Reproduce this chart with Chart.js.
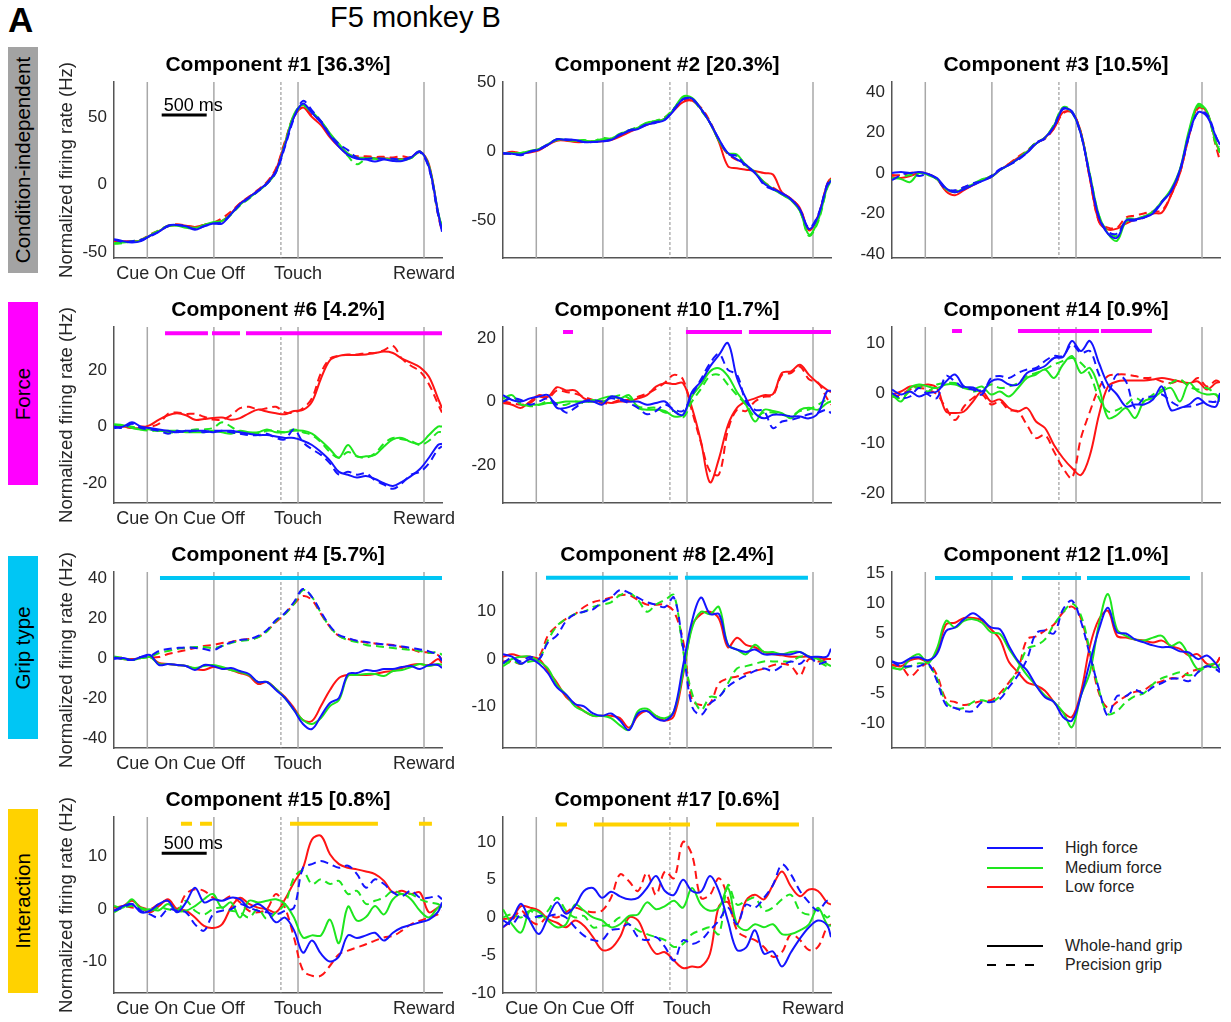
<!DOCTYPE html>
<html>
<head>
<meta charset="utf-8">
<title>F5 monkey B – demixed components</title>
<script src="https://cdn.jsdelivr.net/npm/chart.js@4.4.1/dist/chart.umd.min.js"></script>
<style>
  html, body { margin: 0; padding: 0; background: #fff; }
  #page { position: relative; width: 1231px; height: 1022px; overflow: hidden;
          font-family: 'Liberation Sans', Arial, Helvetica, sans-serif; color: #000; }
  #page canvas { position: absolute; }
  .ptitle { position: absolute; width: 328px; text-align: center; font-weight: bold;
            font-size: 21px; line-height: 24px; white-space: nowrap; }
  .ylab { position: absolute; width: 260px; height: 22px; line-height: 22px; text-align: center;
          font-size: 18.5px; color: #262626; white-space: nowrap; transform: rotate(-90deg); }
  .side { position: absolute; left: 8px; width: 30px; }
  .side span { position: absolute; left: 50%; top: 50%; white-space: nowrap; font-size: 20.5px;
               transform: translate(-50%, -50%) rotate(-90deg); }
  .leg-line { position: absolute; left: 987px; width: 56px; height: 2px; }
  .leg-text { position: absolute; left: 1065px; font-size: 16px; line-height: 20px; color: #222; white-space: nowrap; }
</style>
</head>
<body>
<div id="page">
  <div style="position:absolute;left:8px;top:2px;font-size:35px;line-height:35px;font-weight:bold;">A</div>
  <div style="position:absolute;left:330px;top:3px;font-size:29px;line-height:29px;">F5 monkey B</div>

  <div class="side" style="top:47px;height:226px;background:#a3a3a3;"><span>Condition-independent</span></div>
  <div class="side" style="top:302px;height:183px;background:#ff00ff;"><span>Force</span></div>
  <div class="side" style="top:556px;height:183px;background:#00c6f4;"><span>Grip type</span></div>
  <div class="side" style="top:809px;height:184px;background:#ffd200;"><span>Interaction</span></div>

  <div class="leg-line" style="top:847px;background:#1414ff;"></div>
  <div class="leg-text" style="top:838px;">High force</div>
  <div class="leg-line" style="top:867px;background:#1ee61e;"></div>
  <div class="leg-text" style="top:858px;">Medium force</div>
  <div class="leg-line" style="top:886px;background:#ff1414;"></div>
  <div class="leg-text" style="top:877px;">Low force</div>
  <div class="leg-line" style="top:945px;background:#000;"></div>
  <div class="leg-text" style="top:936px;">Whole-hand grip</div>
  <div class="leg-line" style="top:964px;width:48px;background:repeating-linear-gradient(to right,#000 0 9px,transparent 9px 19px);"></div>
  <div class="leg-text" style="top:955px;">Precision grip</div>
</div>

<script>
// ---- time base (ms) and trial events ----
const T = [0,100,200,300,400,500,600,700,800,900,1000,1100,1200,1300,1400,1500,1600,1700,1800,1900,
           2000,2100,2200,2300,2400,2500,2600,2700,2800,2900,3000,3100,3200,3300,3400,3500,3600,3645];
const T_END = 3645;
const eventTimes = [370, 1110, 2045, 3445];
const eventNames = ['Cue On', 'Cue Off', 'Touch', 'Reward'];
const goTime = 1855;

// ---- Component #1 [36.3%] ----
const c1HighWhole = [-40.5,-42,-43,-42,-38,-35,-30.5,-30,-31,-33.5,-31,-29,-29,-22,-14.5,-9.5,-4.5,1,10,29,50,60,53,46,36,28,22,19,18.5,17,18.5,17.5,17.5,20,24.5,13,-20,-35];
const c1HighPrec  = [-41,-42.5,-42,-41,-38.5,-35,-31,-30,-31,-33,-31,-29,-28,-22,-15,-10,-5,0.5,9,28,49,62,55,47,37,30,25.5,20,19,19.5,19,19,18.5,20.5,24,12,-22,-34];
const c1MedWhole  = [-43.5,-43,-42.5,-41.5,-38,-34.5,-31,-30.5,-32,-32.5,-30,-28,-27,-22,-15,-10,-5,0.5,9,30,52,59,54,47,38,30,23,20,19.5,19,19,18.5,18.5,19.5,24,14,-20,-32];
const c1MedPrec   = [-44,-43.5,-42,-41,-37.5,-34,-30.5,-30,-31.5,-32,-30.5,-28.5,-27.5,-22.5,-15.5,-10.5,-5,1,9.5,30,51,58,53,47,37,29,21,15,19,19.5,19,19,18,19.5,24.5,13,-21,-31];
const c1LowWhole  = [-41.5,-42,-42,-41.5,-38,-34.5,-31,-30,-30.5,-31.5,-30,-28.5,-27,-21.5,-14,-9.5,-4.5,1,11,31,50,57,50,44,35,28,22.5,20,20,19.5,19.5,19,19,20,24.5,15,-21,-33];
const c1LowPrec   = [-42,-42.5,-42,-41,-37,-34,-30.5,-29.5,-30.5,-31.5,-30,-28.5,-25,-20,-14,-9,-4,2,12,32,51,57,51,47,37,29,22,21,21,20.5,20.5,20,21,20,24,13,-22,-35];

// ---- Component #2 [20.3%] ----
const c2HighWhole = [-1.5,-1.5,-2,0,1.5,5,9,8.5,8.5,7,7,7.5,8.5,12,15,16.5,19.5,21,23,30,38,38.5,31,21,9,-1,-5.5,-9.5,-15.5,-23,-27,-30,-34.5,-42,-56,-47,-25,-21];
const c2HighPrec  = [-1,-1.5,-2.5,0,2,5.5,9,9,8.5,7,7,7.5,9,12.5,15.5,17,20,21.5,23.5,31,38,38,31,21,9,-1.5,-3,-11,-15,-24,-27.5,-30.5,-34.5,-42,-55,-46,-24,-19];
const c2MedWhole  = [-1,-1,-1,0.5,2,5.5,9,8.5,8,8,7.5,9,9.5,12.5,15.5,17.5,21,22,24,31,40,39,31,21,8,-1,-2,-10,-15,-22,-27,-31,-35,-43,-60,-50,-26,-20];
const c2MedPrec   = [-1,-1.5,-1,0.5,2,5,8.5,8.5,8,8.5,7.5,10,9.5,13,15.5,18,21,22.5,25,31.5,39,38,30,21,8,-1,-3,-9.5,-15,-22.5,-27,-31,-35,-43,-61,-51,-27,-21];
const c2LowWhole  = [-1.5,0,-1,-0.5,1,5,8,8,7,7,7.5,7.5,8.5,11,14,17,19.5,21.5,24,30,36,37,31,21,7,-10.5,-12,-13,-14,-15.5,-16.5,-29.5,-34,-41,-57,-47,-24,-19];
const c2LowPrec   = [-1.5,-0.5,-1,0,1.5,5,8.5,8.5,7.5,7.5,7.5,8,9,12,15,17.5,20,22,25,31,37,37,32,22,8,-2,-6,-10,-15.5,-22,-26,-30,-34,-41,-56,-47,-24,-18];

// ---- Component #3 [10.5%] ----
const c3HighWhole = [0,0.5,0,0.5,-0.5,-2.5,-7.5,-9.5,-8,-6,-4,-2,1.5,4,7,10,14.5,17.5,23,31.5,30.5,19,-2,-22,-30,-32,-23.5,-23,-22,-20,-14.5,-9,1.5,19,30,28,18,14];
const c3HighPrec  = [-3.5,-1,0,-1.5,-0.5,-3,-8,-8.5,-7,-5,-4,-1.5,2,4,6.5,10,15,17,23,32,30,19,-2,-22,-29,-30,-24,-23.5,-22,-19.5,-14,-9,1,18,30,29,18,13];
const c3MedWhole  = [-2.5,-3,-4.5,0,-1,-3,-8,-9.5,-7.5,-5.5,-3,-2,1.5,4,7,10.5,14.5,17.5,23.5,32,30,19.5,-1,-21,-30,-33.5,-24,-23,-21.5,-19,-14,-8,2,21,34,30.5,15,11];
const c3MedPrec   = [-3,-2,-1,0,-0.5,-3,-7.5,-9,-7.5,-5.5,-3.5,-1.5,1.5,4,7,11,15,17.5,24,32.5,30.5,19,-1,-21,-29,-31,-23,-22.5,-21.5,-19.5,-14,-8.5,1.5,20,33,29.5,14,10];
const c3LowWhole  = [-2,-2.5,-1.5,0,-0.5,-3,-9,-11,-8.5,-6,-3.5,-2,1.5,4.5,7.5,10.5,14.5,17.5,22,30,30,20,-3,-24,-28,-27.5,-25,-23,-22,-20,-19.5,-11,0,19,33,30,15,10];
const c3LowPrec   = [-1,-1,0,0.5,-0.5,-3,-8.5,-9,-7,-6,-3.5,-1.5,1.5,4.5,8,11,15,17,22,29.5,30,20,-3,-24,-27,-27,-22,-21,-20,-19,-18.5,-11,0,18,32,30,13,6];

// ---- Component #6 [4.2%] ----
const c6HighWhole = [-0.5,0,1.5,0,-0.5,-1,-1.5,-2,-1.5,-1.5,-1.5,-2,-1.5,-1.5,-2,-2.5,-3,-3,-3.5,-4,-4,-5,-6.5,-9,-12,-16,-17,-18,-17.5,-18.5,-20,-21,-19.5,-17.5,-15,-11,-6.5,-6];
const c6HighPrec  = [0,-0.5,1,-0.5,-1,-1.5,-2.5,-1.5,-2,-1.5,-2,-1.5,-1.5,-2,-2.5,-3,-3,-2.5,-4,-4.5,-1,-5.5,-8,-10,-13,-17,-16,-17,-16.5,-19,-20.5,-22,-20,-17,-16,-13,-8,-7];
const c6MedWhole  = [0.8,0.5,-0.5,-1,-1,-1.5,-1.5,-1.5,-2,-2,-2,-1.5,-2,-2.5,-1.5,-2,-2,-1,-2,-2,-1.5,-1.5,-2.5,-5,-8,-11,-6.5,-10.5,-10.5,-10,-7,-4.5,-4,-5.5,-6,-3,0,0];
const c6MedPrec   = [0.5,0.5,0,-1,-1.5,-1.5,-2,-2,-1.5,-1,-1,-0.5,1.5,0,-2,-2,-2.5,-1.5,-1.5,-2,-1,-2,-3,-5.5,-9,-11,-9,-10.5,-11,-9.5,-6,-4,-4.5,-5,-6.5,-5,-2,-2];
const c6LowWhole  = [0,0,-0.5,-0.5,0.5,2.5,4,4.7,4,2.4,2.7,3,3.2,2.4,3,4.7,6,5.3,4.7,4.4,5.5,5.9,8.8,17,23.5,25,25.3,25.3,25.5,26,26.5,26,24,22.6,21,17.6,10,6.5];
const c6LowPrec   = [0.5,0,-0.5,0,0,1,4.5,5,4.5,4.5,3.5,2.5,2.5,4,6.5,7,6,6.5,7,5,5,6.5,10,19,24,25,25.5,25.5,26,26,27,28.5,24,21.5,19.5,15,8,5];
const c6Sig = [[567,1044],[1089,1400],[1467,3645]];
const c6SigLevel = 33;

// ---- Component #10 [1.7%] ----
const c10HighWhole = [2,0.5,0,1,1.6,2,-2,-2,-1,0,0,-1,1.6,1,0,0,-1,-0.5,0,-3,-4.2,3,6.3,11,14.7,18.4,7.4,1,-3.7,-5.3,-4.2,-4.2,-4.7,-4.7,-5.3,-3.7,3.2,3.4];
const c10HighPrec  = [0,1,0.5,-1,0,1,-1,-3.5,-2,0,0.5,0,1,0.5,-0.5,-2,-4,-3,-1,-2.5,-3,2,7,12,15,10,8.5,0,-2.6,-3,-8.4,-6.3,-5.8,-5,-4,-3.5,-2.6,-3.7];
const c10MedWhole  = [1,2,-1,-1,-1,-0.5,-0.5,0,0,0,0,1,1.6,1,2,-2,-2.6,-2.6,-3,-4.7,-4.2,1.6,5.3,9.5,10.5,8,3,-1,-6.3,-2.6,-3,-3.7,-5.3,-2.6,-2,-2.6,-0.5,0];
const c10MedPrec   = [0,1.5,-0.5,-1.5,-1,0,-1,-1,0,-0.5,0.5,0,1,2,1,-1.5,-2,-2,-3.5,-3,-5,0,4,8,8.4,5.3,2,-1,-4.7,-3.5,-3.5,-4.2,-4.5,-3,-2.5,-1,0.5,0];
const c10LowWhole  = [-0.5,-1,-2,0,2,1.5,4.5,3.5,3.5,1,0,0,-0.5,0,0,1,2,4.7,5.8,5.5,5.8,-2,-12.6,-25.5,-18,-7.4,-2,0,1,2,2.3,9,9.5,11.6,8.4,5.8,3.7,3];
const c10LowPrec   = [0,-0.5,-1,-0.5,1.5,1,3.5,3,2.5,1.5,0.5,-0.5,-0.5,0.5,0.5,1.5,2.5,4,6,8.4,7,-3,-13,-22,-23,-9,-2.6,-3,0,1.5,2,8.4,9,11,7,6,1,-1];
const c10Sig = [[667,778],[2033,2656],[2733,3645]];
const c10SigLevel = 21.9;

// ---- Component #14 [0.9%] ----
const c14HighWhole = [0.7,-0.3,0.3,-0.7,0,0.3,2.3,3.7,1.3,1.1,0.3,2.3,2.7,1.7,1.7,4,4.7,5.4,7,7.2,10.4,8.4,10.4,6,1.7,-0.3,-2.7,-2.3,-2.3,-1.3,1.3,-3.4,-3,-2.3,-1,-2.3,-2.7,0];
const c14HighPrec  = [0,-1,-0.7,1,-0.3,-1,3.4,2.3,1,0.7,-0.3,3,3.4,3,4,4.7,5,6.4,7.4,7.4,9.7,8,8.4,3.7,0.3,3.7,2.3,-3,-1,-0.7,-0.3,-1.7,-2.7,-2.7,-2.3,-1.7,-1.7,-0.3];
const c14MedWhole  = [-0.3,-1.7,1,1.7,1.3,1,1.7,1.7,1,0.7,1.3,-0.3,0.3,-0.7,1,3,3.7,4.7,3,5.7,7.4,4,5,1,-5,-4.4,-3,-5,-1.7,-1,0.3,1,-1.7,2,0.3,-0.3,-0.3,-1.7];
const c14MedPrec   = [-0.7,-1,0.3,1.3,0.3,1.7,2,2,1.3,0.3,0.7,1.7,1,1.3,2,3.4,4,4.7,5.7,6.4,7,6,3.7,-1,-3.7,-3.4,-2.3,-1,-1.7,-0.3,0.7,2,2.7,1.3,0.7,1,-0.3,-1];
const c14LowWhole  = [-0.3,0.3,1.3,1.3,1.7,1,-3.7,-4,-3.7,-1.7,0.3,-1.7,-1.3,-3,-3.7,-3,-5.7,-7,-10.4,-13,-15,-16.4,-12.4,-4.4,1.3,2.3,2.5,2.5,2.5,2.7,3,2.7,2.3,2,2.3,0.7,2,2.2];
const c14LowPrec   = [-0.7,-0.3,0.7,1,0.7,-0.3,-3,-5.4,-2.7,-1,-0.3,-2.3,-1.7,-3.4,-3.7,-6.4,-9,-8.4,-11.7,-15,-17,-9,-3.7,1,3.4,3.7,3.7,3.4,3,3,2.3,2,2.5,1.7,3,1.3,2.5,2.2];
const c14Sig = [[667,778],[1400,2300],[2322,2889]];
const c14SigLevel = 12.4;

// ---- Component #4 [5.7%] ----
const c4HighWhole = [-0.5,0,-1,0.5,1.5,-3.5,-3,-3.5,-4,-6,-3.5,-4,-5.5,-5,-6.5,-8,-12,-12,-16,-20,-26,-33,-35.5,-29,-22.5,-20,-8,-7.5,-6,-6.5,-5.5,-5.5,-4.5,-4,-5.5,-3.5,-3.5,-5];
const c4HighPrec  = [0.3,-0.5,-1,0.5,1,3.5,4.5,5,5.3,5,4.5,3.8,6,7.8,9,9.5,11,14,19,22.5,28,34.5,30.5,23,16,11.5,10,8.6,8,7.3,6.8,6.3,5.8,5,4.3,3.3,1.5,-1.5];
const c4MedWhole  = [0.5,-0.5,-1,0,0.5,-3,-3,-3.5,-4,-5,-4,-3.5,-4.5,-6,-7,-8.5,-12,-12,-15.5,-20,-26,-31,-33,-30,-24,-21,-9,-8.5,-8,-8,-9,-6.5,-6,-4.5,-3,-4,-3,-3.5];
const c4MedPrec   = [0.8,0,-1,0,0.5,2.5,3.5,4.5,5,5.5,5.5,5,6,7.5,8.5,9,10.3,13.3,18.5,22,27,34,30.5,22.5,15.5,11,9,8,6.5,6,5.5,5,4.5,4,3.5,2.5,3,1.5];
const c4LowWhole  = [0.5,-0.5,-0.5,0,0.5,-2.5,-3,-3.5,-4,-5.5,-6,-4.5,-5,-6,-7.5,-9,-13,-12,-15.5,-19.5,-25,-31,-31.5,-24,-16,-10,-8.5,-8.5,-8.5,-8,-7,-6.5,-5,-3.5,-3,-3.5,-0.5,-2.5];
const c4LowPrec   = [0.3,0,-1,0.5,0.3,0.5,2,3,4,5,6,6.5,7.5,8,9,9.5,10.5,13.5,18,22,27,31,29,22,15.5,11,9.5,8.6,7.8,7.3,6.8,6.5,5.5,4.5,3,2.8,1.5,-1];
const c4Sig = [[511,3645]];
const c4SigLevel = 40;

// ---- Component #8 [2.4%] ----
const c8HighWhole = [1,0.5,-1,0,-1,-3,-6,-7.5,-9.5,-10,-11.5,-12,-11.5,-13,-15,-11.5,-11,-12.5,-13,-11,-1.5,8,13,9.5,9.5,3,2,1.5,2,1,1,1,1,1.5,0.5,0.5,0.5,2.2];
const c8HighPrec  = [-0.9,0.3,-0.5,0.5,0,3.5,5,8,9.5,10,10.5,12,13,14.6,14,13,12,11.5,11,13,2.6,-10,-11.8,-9.4,-8,-5.8,-4.5,-3.5,-2.5,-2,-2.5,-1.5,-0.5,-1,0.5,-1,-0.5,-0.5];
const c8MedWhole  = [-1,0,0.5,0.5,-0.5,-2,-5.5,-7.5,-10,-11,-12,-12,-12.5,-14,-15,-11,-10.5,-12,-12.5,-11,-3,6.5,10,9.5,11,3,2,1,3,1.5,1.5,1,1.5,1.5,0.5,0,-1,-1.5];
const c8MedPrec   = [-1.5,-0.5,-1,-0.5,0,4,7,8.5,9.5,10,11,11.5,12,13.5,14,12.5,10,11.5,12.5,13.5,1.9,-7.2,-10.8,-8,-8,-5.1,-2,-1.5,-1,-0.5,-0.5,-0.5,-0.5,0.5,0.5,-0.5,-1.5,-1.5];
const c8LowWhole  = [0.5,1,0.5,0.5,0,-2.5,-5,-8,-9.5,-11,-12,-12,-12,-12.5,-14.5,-12,-11,-12,-13,-12,-3.5,7,9.5,10,8.5,2.5,4.5,3,2.5,1.5,1,0.8,0.5,0.5,0.5,0.3,0,0];
const c8LowPrec   = [-0.5,-0.5,-1,0,0.5,5,7,8.5,9.5,11,12,12.5,13,13.5,13.5,12.5,11.5,11.5,11.5,10,4,-8.7,-9.7,-9.4,-5.1,-4.1,-3.7,-3,-2.5,-2,-1.3,-1,-1.5,-3.5,0,-0.5,0,0];
const c8Sig = [[478,1944],[2022,3389]];
const c8SigLevel = 17.2;

// ---- Component #12 [1.0%] ----
const c12HighWhole = [0.3,0,0.8,1,0.5,1.6,5.4,6,7.4,8.4,7.4,6,5.7,2.9,0.4,-1.2,-3.7,-5.7,-6.5,-9,-9.6,-5.4,0.2,5.7,9.3,5.2,5,4,3.5,3,2.7,2.7,2,1.8,0.7,1.3,-0.1,-1.2];
const c12HighPrec  = [0.3,-0.5,-0.5,-0.5,0,-3,-7,-7.5,-8,-8,-6.5,-6.5,-6,-4,-2,0.7,5,5.5,5,9,10.5,7,1.3,-4.3,-8.8,-5.5,-5.5,-4.5,-5,-4,-3.3,-2.6,-2.6,-3,-1.5,-0.5,-1,-1.5];
const c12MedWhole  = [-0.6,-1,0.8,1.5,0,2.5,7.1,6,7.1,7.4,6.8,5.2,4.9,2.4,0.2,-2,-3.7,-5.4,-6.5,-8.2,-10.7,-5.4,-1.5,6.6,11.6,5.7,4.6,4,3.8,4.3,4.6,2.9,3.5,1.3,-1,-0.4,-0.7,-0.1];
const c12MedPrec   = [-0.8,-1,-0.5,0,-0.3,-2.5,-6.5,-7.5,-7.5,-6.5,-6.2,-6.5,-5.5,-3.5,-1,2.4,3,4,6.5,8.5,10,8,2,-4.5,-8.5,-8,-6.5,-5.5,-5,-3.5,-2.5,-2,-1.5,-2,-1.5,-0.5,0,-0.5];
const c12LowWhole  = [-0.3,-0.5,0.5,0.8,0.3,2,6.5,6.8,7.6,7.6,7.2,5.7,4,0.2,-1.5,-3.2,-3.7,-4.6,-6.5,-8.2,-9,-4.8,2.9,7.4,8.8,4.6,4.3,4,3.8,3.5,3.8,2.9,2.4,1.3,1.5,-0.1,0,1];
const c12LowPrec   = [-0.3,-0.5,-2.2,-1,0,-2,-6,-6.5,-7,-6.7,-6.3,-6.2,-5,-3.2,-1,4,4.5,5.5,6.5,8.5,9.5,7.5,1.5,-5,-7.5,-6.5,-5.5,-4.8,-4.5,-3.5,-3,-2.5,-2.5,-1.5,-1,-0.5,0,1];
const c12Sig = [[478,1344],[1444,2100],[2167,3311]];
const c12SigLevel = 14.3;

// ---- Component #15 [0.8%] ----
const c15HighWhole = [-0.3,0.6,1,-0.6,-0.3,1,1.6,-0.6,1.3,4.1,1.3,1.9,1.6,2.2,1.9,0.3,1,-0.3,-2.5,-1.6,-4,-8.3,-6,-8.5,-10,-9,-5,-5.5,-5,-4.5,-6,-4.5,-3.5,-3,-2.5,-2,-0.5,1.3];
const c15HighPrec  = [-0.3,0.3,1,-0.3,-1,-1.6,0,-0.3,-0.6,-2.9,-4.1,-1,-0.3,0,1,0.3,-0.3,-0.6,-1,-0.3,0.3,7.9,8.6,9.2,8.6,7.9,8.3,6.7,4.1,5.7,4.8,3.2,2.5,3.5,2.2,2.2,2.5,1.9];
const c15MedWhole  = [0.6,0.3,1.9,0,0,-0.2,1,-0.3,-0.3,0.6,1.9,2.9,0.3,1.3,-1.6,1.6,1.3,1.6,1.9,1,-1.6,-5.4,-5,-5,-2,-6.5,0.5,-2.2,-1.5,0.6,-1,1.9,2.9,1.9,-0.3,-1.6,0.3,0.5];
const c15MedPrec   = [-0.6,0.3,0.6,0.3,-0.3,0.3,0,-0.3,1.6,-0.3,-1,0,0.3,-0.3,-0.6,-1.6,0,-1.9,-0.6,1,6,7.3,4.8,5.7,4.8,5.4,2.9,3.5,1,1.6,2.2,3.5,2.9,2.9,1.9,1.3,1,0.3];
const c15LowWhole  = [0.3,0.6,1.6,0.3,-0.6,0.6,1.9,0,-0.3,-1.6,-3.2,-3.6,-2.9,0.3,2.2,1,0.3,0,-0.6,1.9,5.1,7.9,13.3,14,10.5,8.6,7.9,7.6,7.2,6.7,5.4,3.2,3.5,2.9,3.2,-0.6,0.3,0.6];
const c15LowPrec   = [-0.3,0.6,0.3,0.3,0,1,1.6,0,2.9,3.8,3.5,2.2,1.6,2.5,1.3,-0.3,-0.6,0,2.9,0.3,-5.4,-11.7,-12.7,-12.7,-10.8,-8.6,-7.9,-7.3,-6.7,-6,-5.4,-5.1,-4.1,-2.9,-2.2,-1.6,-1,-0.3];
const c15Sig = [[744,867],[956,1089],[1956,2933],[3389,3533]];
const c15SigLevel = 16.3;

// ---- Component #17 [0.6%] ----
const c17HighWhole = [-1.3,-0.2,1.8,-0.5,-2.2,0,2,0.5,1.5,3.5,3.9,2.6,3.4,2.8,2.4,2.6,3.9,5.5,3.5,3,5,3.5,3.4,5.5,3.5,-0.5,-4.3,-4,-1.7,-4.8,-4.5,-6.5,-4.6,-2.8,-1.3,-0.4,-1,-2.6];
const c17HighPrec  = [-0.4,-0.9,0.4,-0.2,0.2,0.2,0.4,0,-1.3,-2.4,-3,-3,-1.7,-1.5,-0.9,-2.6,-3,-2.6,-3.9,-5.7,-3,-3.5,-3,-1.7,-0.4,1.3,-0.9,1.7,1.3,2.6,4.3,7,5.7,3.5,2,0.9,2.2,2];
const c17MedWhole  = [1.1,-0.9,-2,0.9,0.7,-0.4,-1.3,-0.9,1.7,0.9,0,-0.4,-1.3,-0.9,0.2,0.4,2,1.1,1.5,2.2,1.3,3.9,1.7,0.9,1.3,3.9,-0.9,-1.7,-0.9,-1.3,-0.9,-2.2,-2.2,-1.7,-0.9,1.3,-0.9,-1.1];
const c17MedPrec   = [0,0.4,0,0.9,0,0.9,2.6,0.9,0,0.2,-1.3,-1.1,-0.9,0,-0.9,-1.7,-2.2,-2.6,-3,-3.9,-3.5,-2.2,-1.7,-1.3,-2.2,4.3,1.7,2.2,2.6,0.9,1.3,2.4,3,0.9,0.4,1.1,0,0.4];
const c17LowWhole  = [-0.2,0,1.5,1.3,0.9,-0.2,-0.7,-1.3,-0.4,-1.1,-2.6,-4.3,-4.1,-2.6,0,-0.4,-3,-4.8,-4.6,-5.7,-6.7,-6.5,-6.5,-4.8,1.5,2,-0.9,2.2,3,2.4,4.3,6.1,4.1,2.8,3.7,3.5,2,1.7];
const c17LowPrec   = [-1.3,-0.4,0.9,-0.4,-0.9,0.2,0,0.7,1.3,0.9,0.7,0.9,2.6,5.7,4.8,3.5,5.9,3,6.1,5.2,10,8.3,2.6,3,5.2,2.6,-1.7,-2.6,-3,-3.9,-5.2,-4.6,-2.2,-3,-4.3,-3.9,-1.3,-0.9];
const c17Sig = [[589,711],[1011,2078],[2367,3289]];
const c17SigLevel = 12.3;

// 500 ms scale bar (start/end in ms)
const scaleBarSpan = [530, 1030];

// ---- drawing ----
const FONT = "'Liberation Sans', Arial, Helvetica, sans-serif";
Chart.defaults.font.family = FONT;

const COL_HIGH = '#1414ff', COL_MED = '#1ee61e', COL_LOW = '#ff1414';
const SIG_FORCE = '#ff00ff', SIG_GRIP = '#00c6f4', SIG_INTER = '#ffd200';
const PLOT_LEFT = [114, 503, 892];
const PLOT_TOP = [82, 327, 572, 817];
const PLOT_W = 328, PLOT_H = 176;
const M = { left: 60, top: 12, right: 20, bottom: 30 };

const panels = [
  { col:0, row:0, title:'Component #1 [36.3%]', y:[-54.5,76], yt:[-50,0,50], xl:true,
    s:[c1HighWhole,c1HighPrec,c1MedWhole,c1MedPrec,c1LowWhole,c1LowPrec], bar:51.5 },
  { col:1, row:0, title:'Component #2 [20.3%]', y:[-77,50.5], yt:[-50,0,50], xl:false,
    s:[c2HighWhole,c2HighPrec,c2MedWhole,c2MedPrec,c2LowWhole,c2LowPrec] },
  { col:2, row:0, title:'Component #3 [10.5%]', y:[-42,45], yt:[-40,-20,0,20,40], xl:false,
    s:[c3HighWhole,c3HighPrec,c3MedWhole,c3MedPrec,c3LowWhole,c3LowPrec] },
  { col:0, row:1, title:'Component #6 [4.2%]', y:[-27,35.2], yt:[-20,0,20], xl:true,
    s:[c6HighWhole,c6HighPrec,c6MedWhole,c6MedPrec,c6LowWhole,c6LowPrec], sig:c6Sig, sigY:c6SigLevel, sigC:SIG_FORCE },
  { col:1, row:1, title:'Component #10 [1.7%]', y:[-32,23.5], yt:[-20,0,20], xl:false,
    s:[c10HighWhole,c10HighPrec,c10MedWhole,c10MedPrec,c10LowWhole,c10LowPrec], sig:c10Sig, sigY:c10SigLevel, sigC:SIG_FORCE },
  { col:2, row:1, title:'Component #14 [0.9%]', y:[-22,13.2], yt:[-20,-10,0,10], xl:false,
    s:[c14HighWhole,c14HighPrec,c14MedWhole,c14MedPrec,c14LowWhole,c14LowPrec], sig:c14Sig, sigY:c14SigLevel, sigC:SIG_FORCE },
  { col:0, row:2, title:'Component #4 [5.7%]', y:[-45,43], yt:[-40,-20,0,20,40], xl:true,
    s:[c4HighWhole,c4HighPrec,c4MedWhole,c4MedPrec,c4LowWhole,c4LowPrec], sig:c4Sig, sigY:c4SigLevel, sigC:SIG_GRIP },
  { col:1, row:2, title:'Component #8 [2.4%]', y:[-18.8,18.4], yt:[-10,0,10], xl:false,
    s:[c8HighWhole,c8HighPrec,c8MedWhole,c8MedPrec,c8LowWhole,c8LowPrec], sig:c8Sig, sigY:c8SigLevel, sigC:SIG_GRIP },
  { col:2, row:2, title:'Component #12 [1.0%]', y:[-14.2,15.3], yt:[-10,-5,0,5,10,15], xl:false,
    s:[c12HighWhole,c12HighPrec,c12MedWhole,c12MedPrec,c12LowWhole,c12LowPrec], sig:c12Sig, sigY:c12SigLevel, sigC:SIG_GRIP },
  { col:0, row:3, title:'Component #15 [0.8%]', y:[-16,17.6], yt:[-10,0,10], xl:true,
    s:[c15HighWhole,c15HighPrec,c15MedWhole,c15MedPrec,c15LowWhole,c15LowPrec], sig:c15Sig, sigY:c15SigLevel, sigC:SIG_INTER, bar:10.7 },
  { col:1, row:3, title:'Component #17 [0.6%]', y:[-10,13.3], yt:[-10,-5,0,5,10], xl:true,
    s:[c17HighWhole,c17HighPrec,c17MedWhole,c17MedPrec,c17LowWhole,c17LowPrec], sig:c17Sig, sigY:c17SigLevel, sigC:SIG_INTER }
];

function toXY(vals) { return vals.map((v, i) => ({ x: T[i], y: v })); }

function segmentsToXY(segs, level) {
  const pts = [];
  segs.forEach((sg, i) => {
    if (i > 0) pts.push({ x: (segs[i-1][1] + sg[0]) / 2, y: null });
    pts.push({ x: sg[0], y: level }, { x: sg[1], y: level });
  });
  return pts;
}

// vertical event markers behind the traces
const eventLines = {
  id: 'eventLines',
  beforeDatasetsDraw(chart) {
    const { ctx, chartArea: a, scales: { x } } = chart;
    ctx.save();
    ctx.strokeStyle = '#a8a8a8';
    ctx.lineWidth = 1.5;
    eventTimes.forEach(t => {
      const px = x.getPixelForValue(t);
      ctx.beginPath(); ctx.moveTo(px, a.top); ctx.lineTo(px, a.bottom); ctx.stroke();
    });
    ctx.strokeStyle = '#8a8a8a';
    ctx.lineWidth = 1;
    ctx.setLineDash([3, 2]);
    const pg = x.getPixelForValue(goTime);
    ctx.beginPath(); ctx.moveTo(pg, a.top); ctx.lineTo(pg, a.bottom); ctx.stroke();
    ctx.restore();
  }
};

function makeScaleLabel(level) {
  return {
    id: 'scaleLabel',
    afterDatasetsDraw(chart) {
      const { ctx, scales: { x, y } } = chart;
      ctx.save();
      ctx.fillStyle = '#000';
      ctx.font = '18px ' + FONT;
      ctx.textAlign = 'left';
      ctx.textBaseline = 'alphabetic';
      ctx.fillText('500 ms', x.getPixelForValue(scaleBarSpan[0]) + 2, y.getPixelForValue(level) - 4);
      ctx.restore();
    }
  };
}

const page = document.getElementById('page');

panels.forEach(p => {
  const w = M.left + PLOT_W + M.right, h = M.top + PLOT_H + M.bottom;
  const cv = document.createElement('canvas');
  cv.width = w; cv.height = h;
  cv.style.left = (PLOT_LEFT[p.col] - M.left) + 'px';
  cv.style.top = (PLOT_TOP[p.row] - M.top) + 'px';
  cv.style.width = w + 'px'; cv.style.height = h + 'px';
  page.appendChild(cv);

  const tt = document.createElement('div');
  tt.className = 'ptitle';
  tt.textContent = p.title;
  tt.style.left = PLOT_LEFT[p.col] + 'px';
  tt.style.top = (PLOT_TOP[p.row] - 30) + 'px';
  page.appendChild(tt);

  if (p.col === 0) {
    const yl = document.createElement('div');
    yl.className = 'ylab';
    yl.textContent = 'Normalized firing rate (Hz)';
    yl.style.left = (66 - 130) + 'px';
    yl.style.top = (PLOT_TOP[p.row] + PLOT_H / 2 - 11) + 'px';
    page.appendChild(yl);
  }

  const line = (vals, color, dashed) => ({
    data: toXY(vals), borderColor: color, borderWidth: 2, borderDash: dashed ? [8, 5] : [],
    pointRadius: 0, fill: false, tension: 0.35
  });
  const datasets = [
    line(p.s[0], COL_HIGH, false), line(p.s[1], COL_HIGH, true),
    line(p.s[2], COL_MED, false),  line(p.s[3], COL_MED, true),
    line(p.s[4], COL_LOW, false),  line(p.s[5], COL_LOW, true)
  ];
  if (p.sig) {
    datasets.push({ data: segmentsToXY(p.sig, p.sigY), borderColor: p.sigC, borderWidth: 4,
      borderCapStyle: 'butt', pointRadius: 0, tension: 0, spanGaps: false, fill: false });
  }
  const plugins = [eventLines];
  if (p.bar !== undefined) {
    datasets.push({ data: [{ x: scaleBarSpan[0], y: p.bar }, { x: scaleBarSpan[1], y: p.bar }],
      borderColor: '#000', borderWidth: 3, borderCapStyle: 'butt', pointRadius: 0, tension: 0, fill: false });
    plugins.push(makeScaleLabel(p.bar));
  }

  new Chart(cv, {
    type: 'line',
    data: { datasets },
    plugins,
    options: {
      responsive: false, animation: false, devicePixelRatio: 1, events: [],
      layout: { padding: { left: 0, top: M.top, right: M.right, bottom: 0 } },
      plugins: { legend: { display: false }, title: { display: false }, tooltip: { enabled: false } },
      scales: {
        x: {
          type: 'linear', min: 0, max: T_END,
          grid: { display: false, drawTicks: false },
          border: { display: true, color: '#555', width: 1.5 },
          afterBuildTicks: s => { s.ticks = eventTimes.map(v => ({ value: v })); },
          afterFit: s => { s.height = M.bottom; s.paddingLeft = 0; s.paddingRight = 0; },
          ticks: {
            display: p.xl, autoSkip: false, maxRotation: 0, minRotation: 0, padding: 5,
            color: '#262626', font: { size: 18, family: FONT },
            callback: v => eventNames[eventTimes.indexOf(v)] || ''
          }
        },
        y: {
          type: 'linear', min: p.y[0], max: p.y[1],
          grid: { display: false, drawTicks: false },
          border: { display: true, color: '#555', width: 1.5 },
          afterBuildTicks: s => { s.ticks = p.yt.map(v => ({ value: v })); },
          afterFit: s => { s.width = M.left; s.paddingTop = 0; s.paddingBottom = 0; },
          ticks: {
            padding: 7, color: '#262626', font: { size: 17, family: FONT },
            callback: v => String(v)
          }
        }
      }
    }
  });
});
</script>
</body>
</html>
